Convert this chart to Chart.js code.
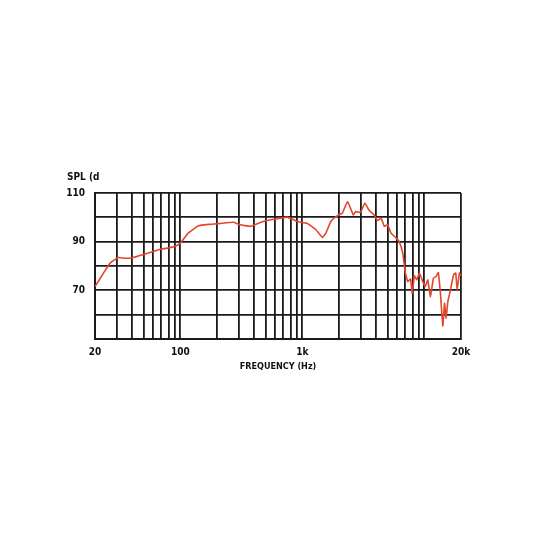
<!DOCTYPE html>
<html>
<head>
<meta charset="utf-8">
<script src="https://cdn.jsdelivr.net/npm/chart.js@4.4.1/dist/chart.umd.min.js"></script>
<style>
    html, body { margin: 0; padding: 0; background: #ffffff; }
    #wrap { width: 535px; height: 535px; }
</style>
</head>
<body>
<div id="wrap"><canvas id="spl-chart" width="535" height="535"></canvas></div>
<script>
// Chart Data
const freqHz = [20, 23.4, 26.6, 31, 35, 40, 50, 60, 70, 80, 90, 100, 116, 141, 170, 205, 240, 272, 300, 340, 376, 438, 500, 604, 756, 908, 1100, 1290, 1462, 1560, 1714, 1944, 2134, 2350, 2620, 2740, 3000, 3260, 3540, 3880, 4140, 4430, 4700, 5000, 5340, 5880, 6220, 6660, 7000, 7320, 7720, 7960, 8300, 8680, 9120, 9720, 10200, 10680, 11240, 11880, 12500, 13020, 13560, 14200, 14660, 15100, 15600, 16400, 17400, 18100, 18600, 19400, 20000];
const splDb = [71.5, 77, 81.2, 83.5, 83.2, 83.3, 84.7, 86, 87, 87.4, 88, 89.4, 93.5, 96.5, 97.1, 97.4, 97.8, 98, 97.2, 96.6, 96.3, 97.6, 98.6, 99.3, 100.1, 98.3, 97.5, 95, 91.7, 93.5, 98.3, 100.7, 101.8, 106.5, 101, 102.4, 102, 105.9, 102.8, 101, 98.7, 99.7, 96.3, 97, 93.5, 91.5, 90.1, 85.3, 77.1, 73.6, 74.6, 68.8, 76, 74.3, 77.1, 73.6, 71.6, 74.3, 67.4, 75, 75.7, 77.3, 68.8, 55.4, 64.7, 58.6, 65.4, 70.2, 76.4, 77.1, 70.2, 77.1, 76];

// Grid lines on the frequency axis (1-2-3..9 per decade)
const freqGrid = [20, 30, 40, 50, 60, 70, 80, 90, 100, 200, 300, 400, 500, 600, 700, 800, 900, 1000, 2000, 3000, 4000, 5000, 6000, 7000, 8000, 9000, 10000, 20000];
const freqLabels = { 20: '20', 100: '100', 1000: '1k', 20000: '20k' };
const splLabels = [110, 90, 70];

const FONT = '"Liberation Sans Narrow", "DejaVu Sans Condensed", "Liberation Sans", sans-serif';
const GRID = '#1a1a1a';

// Small text in the top left corner
const cornerLabel = {
    id: 'cornerLabel',
    afterDraw(chart) {
        const ctx = chart.ctx;
        ctx.save();
        ctx.font = 'bold 10px ' + FONT;
        ctx.fillStyle = '#111';
        ctx.textBaseline = 'middle';
        ctx.textAlign = 'left';
        ctx.fillText('SPL (d', 67, 177);
        ctx.restore();
    }
};

const points = freqHz.map((f, i) => ({ x: f, y: splDb[i] }));

new Chart(document.getElementById('spl-chart').getContext('2d'), {
    type: 'line',
    data: {
        datasets: [{
            data: points,
            borderColor: '#e2472c',
            borderWidth: 1.6,
            pointRadius: 0,
            tension: 0.1,
            fill: false
        }]
    },
    options: {
        responsive: false,
        animation: false,
        layout: { padding: { top: 193, right: 74, left: 0, bottom: 0 } },
        plugins: {
            legend: { display: false },
            tooltip: { enabled: false }
        },
        scales: {
            x: {
                type: 'logarithmic',
                min: 20,
                max: 20000,
                afterBuildTicks: scale => {
                    scale.ticks = freqGrid.map(v => ({ value: v }));
                },
                afterFit: scale => { scale.height = 196; },
                ticks: {
                    autoSkip: false,
                    maxRotation: 0,
                    padding: 7,
                    color: '#111',
                    font: { family: FONT, size: 10, weight: 'bold' },
                    callback: value => freqLabels[value] || ''
                },
                grid: { color: GRID, lineWidth: 1.8, drawTicks: false },
                border: { color: GRID, width: 2 },
                title: {
                    display: true,
                    text: 'FREQUENCY (Hz)',
                    color: '#111',
                    font: { family: FONT, size: 9, weight: 'bold' },
                    padding: { top: 0, bottom: 163 }
                }
            },
            y: {
                min: 50,
                max: 110,
                afterFit: scale => { scale.width = 95; },
                ticks: {
                    stepSize: 10,
                    padding: 10,
                    color: '#111',
                    font: { family: FONT, size: 10, weight: 'bold' },
                    callback: value => splLabels.includes(value) ? String(value) : ''
                },
                grid: { color: GRID, lineWidth: 1.8, drawTicks: false },
                border: { color: GRID, width: 2 }
            }
        }
    },
    plugins: [cornerLabel]
});
</script>
</body>
</html>
